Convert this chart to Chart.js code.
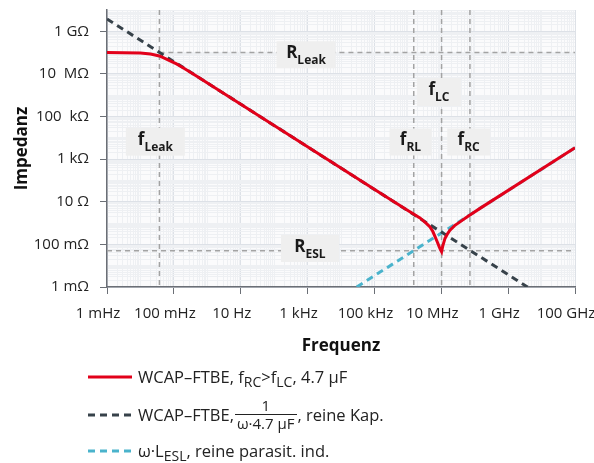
<!DOCTYPE html>
<html lang="de">
<head>
<meta charset="UTF-8">
<title>Impedanz WCAP-FTBE</title>
<script src="https://cdn.jsdelivr.net/npm/chart.js"></script>
<style>
  body { margin: 0; background: #fff; font-family: "Open Sans", sans-serif; }
  #wrap { position: relative; width: 594px; height: 463px; overflow: hidden; }
  canvas { position: absolute; left: 0; top: 0; }
  .leg { position: absolute; left: 88px; font-size: 16.5px; color: #222; white-space: nowrap; display: flex; align-items: center; }
  .leg svg { margin-right: 6px; }
  .leg sub { font-size: 14px; vertical-align: -4px; line-height: 0; }
  .frac { display: inline-flex; flex-direction: column; align-items: center; vertical-align: middle; margin: 0 1px; font-size: 15px; line-height: 17px; }
  .frac .num { padding: 0 2px; }
  .frac .den { border-top: 1px solid #222; padding: 0 2px; }
</style>
</head>
<body>
<div id="wrap">
  <canvas id="chart" width="594" height="463"></canvas>
  <div class="leg" style="top:365px">
    <svg width="44" height="6"><line x1="0" y1="3" x2="44" y2="3" stroke="#e2001a" stroke-width="3"/></svg>
    <span>WCAP–FTBE, f<sub>RC</sub>&gt;f<sub>LC</sub>, 4.7 µF</span>
  </div>
  <div class="leg" style="top:397px">
    <svg width="44" height="6"><line x1="0" y1="3" x2="44" y2="3" stroke="#37424a" stroke-width="3" stroke-dasharray="7,5"/></svg>
    <span>WCAP–FTBE,</span><span class="frac"><span class="num">1</span><span class="den">ω·4.7 µF</span></span><span>, reine Kap.</span>
  </div>
  <div class="leg" style="top:439px">
    <svg width="44" height="6"><line x1="0" y1="3" x2="44" y2="3" stroke="#4ab3cc" stroke-width="3" stroke-dasharray="7,5"/></svg>
    <span>ω·L<sub>ESL</sub>, reine parasit. ind.</span>
  </div>
</div>
<script>
  // impedance curves (Hz, Ohm)
  const redFreq = [1e-3, 0.01, 0.02, 0.037, 0.05, 0.08, 0.12, 0.2, 0.5, 2e5, 1e6, 2.3e6, 3.5e6, 4.6e6, 5.6e6, 6.5e6, 7.6e6, 8.7e6, 9.5e6, 1.02e7, 1.1e7, 1.29e7, 1.55e7, 1.82e7, 2.5e7, 3.63e7, 6e7, 1.44e8, 1e11];
  const redZ    = [1e8, 9.6e7, 8.6e7, 7e7, 5.6e7, 4e7, 2.95e7, 1.85e7, 7.6e6, 19, 3.9, 1.75, 1.0, 0.66, 0.4, 0.23, 0.13, 0.076, 0.055, 0.045, 0.08, 0.19, 0.32, 0.46, 0.76, 1.14, 2.0, 4.9, 3400];
  const capFreq = [1e-3, 3.8e9];
  const capZ    = [3.8e9, 1e-3];
  const eslFreq = [2.95e4, 1e11];
  const eslZ    = [1e-3, 3400];

  // characteristic frequencies and resistances
  const fLeak = 0.037, fRL = 1.5e6, fLC = 1.02e7, fRC = 7.2e7;
  const rLeak = 1e8, rEsr = 0.05;

  const xTickVals = [1e-3, 1e-1, 1e1, 1e3, 1e5, 1e7, 1e9, 1e11];
  const xTickText = ['1 mHz', '100 mHz', '10 Hz', '1 kHz', '100 kHz', '10 MHz', '1 GHz', '100 GHz'];
  const yTickVals = [1e-3, 1e-1, 1e1, 1e3, 1e5, 1e7, 1e9];
  const yTickText = ['1 mΩ', '100 mΩ', '10 Ω', '1 kΩ', '100  kΩ', '10  MΩ', '1 GΩ'];

  const labels = [
    { main: 'R', sub: 'Leak', f: 900, z: 7.9e7, w: 59, h: 27 },
    { main: 'f', sub: 'Leak', f: 0.028, z: 6.6e3, w: 59, h: 28 },
    { main: 'f', sub: 'LC', f: 8.5e6, z: 1.42e6, w: 44, h: 28 },
    { main: 'f', sub: 'RL', f: 1.2e6, z: 6.4e3, w: 42, h: 27 },
    { main: 'f', sub: 'RC', f: 6.6e7, z: 6.4e3, w: 43, h: 27 },
    { main: 'R', sub: 'ESL', f: 1.18e3, z: 0.064, w: 58, h: 27 }
  ];

  const pts = (xs, ys) => xs.map((x, i) => ({ x: x, y: ys[i] }));

  function logTicks(lo, hi, vals, txt) {
    const out = [];
    for (let e = lo; e <= hi; e++) {
      for (let m = 1; m <= 9; m++) {
        if (e === hi && m > 1) break;
        const v = m * Math.pow(10, e);
        const k = m === 1 ? vals.findIndex(t => Math.abs(Math.log10(t) - e) < 1e-9) : -1;
        out.push({ value: v, txt: k >= 0 ? txt[k] : '', major: k >= 0 });
      }
    }
    return out;
  }

  const gridColor = c => c.tick && c.tick.major ? '#dde1e7' : '#eef0f3';
  const tickColor = c => c.tick && c.tick.major ? '#6b6f76' : 'rgba(0,0,0,0)';

  const guides = {
    id: 'guides',
    beforeDatasetsDraw(chart) {
      const { ctx, chartArea: a, scales: { x, y } } = chart;
      ctx.save();
      ctx.strokeStyle = '#a3a3a3';
      ctx.lineWidth = 1.5;
      ctx.setLineDash([5, 4]);
      ctx.beginPath();
      [fLeak, fRL, fLC, fRC].forEach(f => {
        const px = x.getPixelForValue(f);
        ctx.moveTo(px, a.top); ctx.lineTo(px, a.bottom);
      });
      const yl = y.getPixelForValue(rLeak);
      ctx.moveTo(x.getPixelForValue(fLeak), yl); ctx.lineTo(a.right, yl);
      const ye = y.getPixelForValue(rEsr);
      ctx.moveTo(a.left, ye); ctx.lineTo(a.right, ye);
      ctx.stroke();
      ctx.restore();
    },
    afterDatasetsDraw(chart) {
      const { ctx, scales: { x, y } } = chart;
      ctx.save();
      labels.forEach(l => {
        const cx = x.getPixelForValue(l.f), cy = y.getPixelForValue(l.z);
        ctx.fillStyle = '#efefef';
        ctx.fillRect(cx - l.w / 2, cy - l.h / 2, l.w, l.h);
        ctx.fillStyle = '#1a1a1a';
        ctx.textBaseline = 'alphabetic';
        ctx.font = 'bold 17px "Open Sans"';
        const w1 = ctx.measureText(l.main).width;
        ctx.font = 'bold 12px "Open Sans"';
        const w2 = ctx.measureText(l.sub).width;
        const x0 = cx - (w1 + w2) / 2;
        ctx.font = 'bold 17px "Open Sans"';
        ctx.fillText(l.main, x0, cy + 3);
        ctx.font = 'bold 12px "Open Sans"';
        ctx.fillText(l.sub, x0 + w1, cy + 9);
      });
      ctx.restore();
    }
  };

  const plotBg = {
    id: 'plotBg',
    beforeDraw(chart) {
      const { ctx, chartArea: a } = chart;
      ctx.save();
      ctx.fillStyle = '#fbfbfc';
      ctx.fillRect(a.left, a.top, a.right - a.left, a.bottom - a.top);
      ctx.restore();
    }
  };

  new Chart(document.getElementById('chart'), {
    type: 'line',
    data: {
      datasets: [
        { data: pts(redFreq, redZ), borderColor: '#e2001a', borderWidth: 3, pointRadius: 0, tension: 0 },
        { data: pts(capFreq, capZ), borderColor: '#37424a', borderWidth: 3, borderDash: [7, 5], pointRadius: 0 },
        { data: pts(eslFreq, eslZ), borderColor: '#4ab3cc', borderWidth: 3, borderDash: [7, 5], pointRadius: 0 }
      ]
    },
    options: {
      responsive: false,
      animation: false,
      layout: { padding: { left: 0, right: 19, top: 10, bottom: 101 } },
      plugins: { legend: { display: false }, tooltip: { enabled: false } },
      scales: {
        x: {
          type: 'logarithmic', min: 1e-3, max: 1e11,
          afterBuildTicks: s => { s.ticks = logTicks(-3, 11, xTickVals, xTickText); },
          afterFit: s => { s.height = 75; s.paddingLeft = 0; s.paddingRight = 0; },
          ticks: {
            autoSkip: false, maxRotation: 0, minRotation: 0, padding: 11, labelOffset: -9,
            color: '#222', font: { family: 'Open Sans', size: 15 },
            callback: (v, i, t) => t[i].txt
          },
          grid: { color: gridColor, tickColor: tickColor, tickLength: 7, lineWidth: 1 },
          border: { color: '#6b6f76', width: 1.5 },
          title: { display: true, text: 'Frequenz', color: '#111', font: { family: 'Open Sans', size: 17, weight: 'bold' }, padding: { top: 0, bottom: 6 } }
        },
        y: {
          type: 'logarithmic', min: 1e-3, max: 1e10,
          afterBuildTicks: s => { s.ticks = logTicks(-3, 10, yTickVals, yTickText); },
          afterFit: s => { s.width = 107; s.paddingTop = 0; s.paddingBottom = 0; },
          ticks: {
            autoSkip: false, padding: 11,
            color: '#222', font: { family: 'Open Sans', size: 15 },
            callback: (v, i, t) => t[i].txt
          },
          grid: { color: gridColor, tickColor: tickColor, tickLength: 7, lineWidth: 1 },
          border: { color: '#6b6f76', width: 1.5 },
          title: { display: true, text: 'Impedanz', color: '#111', font: { family: 'Open Sans', size: 17, weight: 'bold' }, padding: { top: 12, bottom: 0 } }
        }
      }
    },
    plugins: [plotBg, guides]
  });
</script>
</body>
</html>
